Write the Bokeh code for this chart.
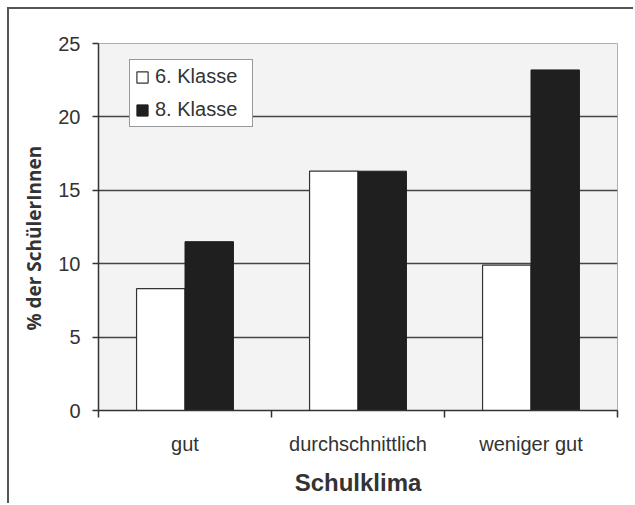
import numpy as np
from bokeh.plotting import figure
from bokeh.models import Range1d, FixedTicker, Legend, LegendItem, ColumnDataSource, Title
from bokeh.embed import file_html
from bokeh.resources import INLINE

categories = ["gut", "durchschnittlich", "weniger gut"]
series_names = ["6. Klasse", "8. Klasse"]
klasse6 = [8.3, 16.3, 9.9]
klasse8 = [11.5, 16.3, 23.2]
y_ticks = [0, 5, 10, 15, 20, 25]
y_title = "% der SchülerInnen"
x_title = "Schulklima"

TEXT = "#333333"
FONT = "Liberation Sans"

p = figure(width=626, height=496, output_backend="svg", toolbar_location=None,
           x_range=Range1d(0, len(categories)), y_range=Range1d(0, 25),
           min_border_left=88, min_border_right=18, min_border_top=34, min_border_bottom=95)
p.styles = {"margin-left": "7px", "margin-top": "7px",
            "border-top": "2px solid #555555", "border-left": "2px solid #555555"}

p.background_fill_color = "#f3f3f3"
p.border_fill_color = "white"
p.outline_line_color = "#b0b0b0"
p.outline_line_width = 1

pos = np.arange(len(categories)) + 0.5
off = 0.14
w = 0.28
src6 = ColumnDataSource(dict(x=pos - off, top=klasse6))
src8 = ColumnDataSource(dict(x=pos + off, top=klasse8))
r6 = p.vbar(x="x", top="top", width=w, source=src6, fill_color="white", line_color="#333333", line_width=1.2)
r8 = p.vbar(x="x", top="top", width=w, source=src8, fill_color="#1f1f1f", line_color="#1f1f1f", line_width=1)

# grid
p.xgrid.visible = False
p.ygrid.ticker = FixedTicker(ticks=[5, 10, 15, 20])
p.ygrid.grid_line_color = "#444444"
p.ygrid.grid_line_width = 1.3
p.ygrid.level = "underlay"

# y axis
p.yaxis.ticker = FixedTicker(ticks=y_ticks)
p.yaxis.axis_line_color = "#333333"
p.yaxis.axis_line_width = 1.5
p.yaxis.major_tick_line_color = "#333333"
p.yaxis.major_tick_line_width = 1.5
p.yaxis.major_tick_out = 6
p.yaxis.major_tick_in = 0
p.yaxis.minor_tick_line_color = None
p.yaxis.major_label_text_font = FONT
p.yaxis.major_label_text_font_size = "20px"
p.yaxis.major_label_text_color = TEXT
p.yaxis.major_label_standoff = 12

ytitle = Title(text=y_title, align="left", offset=80, standoff=18,
               text_font="Open Sans", text_font_style="bold", text_font_size="19px",
               text_color=TEXT)
p.add_layout(ytitle, "left")

# x axis
p.xaxis.ticker = FixedTicker(ticks=list(pos), minor_ticks=list(range(len(categories) + 1)))
p.xaxis.major_label_overrides = {float(x): c for x, c in zip(pos, categories)}
p.xaxis.axis_line_color = "#333333"
p.xaxis.axis_line_width = 1.5
p.xaxis.major_tick_line_color = None
p.xaxis.major_tick_out = 0
p.xaxis.major_tick_in = 0
p.xaxis.minor_tick_line_color = "#333333"
p.xaxis.minor_tick_line_width = 1.5
p.xaxis.minor_tick_out = 7
p.xaxis.minor_tick_in = 0
p.xaxis.major_label_text_font = FONT
p.xaxis.major_label_text_font_size = "20px"
p.xaxis.major_label_text_color = TEXT
p.xaxis.major_label_standoff = 15
p.xaxis.axis_label = x_title
p.xaxis.axis_label_text_font = FONT
p.xaxis.axis_label_text_font_size = "24px"
p.xaxis.axis_label_text_font_style = "bold"
p.xaxis.axis_label_text_color = TEXT
p.xaxis.axis_label_standoff = 11

legend = Legend(items=[LegendItem(label=series_names[0], renderers=[r6]),
                       LegendItem(label=series_names[1], renderers=[r8])],
                location=(31, 283))
legend.border_line_color = "#333333"
legend.border_line_width = 1.5
legend.background_fill_color = "white"
legend.background_fill_alpha = 1
legend.label_text_font = FONT
legend.label_text_font_size = "20px"
legend.label_text_color = TEXT
legend.glyph_width = 14
legend.glyph_height = 14
legend.label_height = 20
legend.label_width = 92
legend.label_standoff = 6
legend.spacing = 10
legend.padding = 5
legend.margin = 0
p.add_layout(legend, "center")

open("out.html", "w").write(file_html(p, INLINE))
